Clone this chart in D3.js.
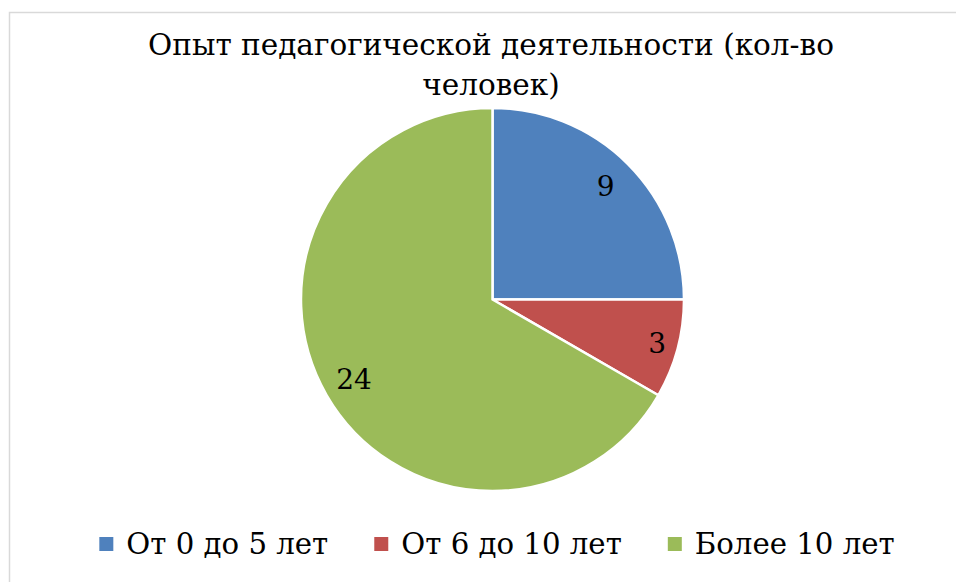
<!DOCTYPE html>
<html><head><meta charset="utf-8">
<script src="https://cdn.jsdelivr.net/npm/d3@7"></script>
<style>html,body{margin:0;padding:0;background:#fff;}svg{display:block;}
svg text{font-family:"DejaVu Serif",serif;}</style>
</head><body>
<svg id="chart" width="956" height="582"></svg>
<script>
const titleLines = ["Опыт педагогической деятельности (кол-во", "человек)"];
const categories = ["От 0 до 5 лет", "От 6 до 10 лет", "Более 10 лет"];
const values = [9, 3, 24];
const colors = ["#4F81BD", "#C0504D", "#9BBB59"];

const svg = d3.select("#chart");
const W = 956, H = 582;

svg.append("rect").attr("x", 9.5).attr("y", 12.5).attr("width", W + 20).attr("height", H + 20)
  .attr("fill", "#fff").attr("stroke", "#d9d9d9").attr("stroke-width", 1.5);

const title = svg.append("text").attr("font-size", 31).attr("fill", "#000")
  .attr("text-anchor", "middle");
title.selectAll("tspan").data(titleLines).join("tspan")
  .attr("x", 491).attr("y", (d, i) => 55 + i * 40).text(d => d);
// fit title width to reference line length (~686px)
const tw = title.select("tspan").node().getComputedTextLength();
title.attr("font-size", 31 * 686 / tw);

const cx = 492.5, cy = 299.5, r = 191.5;
const g = svg.append("g").attr("transform", `translate(${cx},${cy})`);
const pie = d3.pie().sort(null).value(d => d);
const arcs = pie(values);
const arc = d3.arc().innerRadius(0).outerRadius(r);
g.selectAll("path").data(arcs).join("path")
  .attr("d", arc).attr("fill", (d, i) => colors[i])
  .attr("stroke", "#fff").attr("stroke-width", 2.5).attr("stroke-linejoin", "round");

const total = d3.sum(values);
g.selectAll("text.lbl").data(arcs).join("text").attr("class", "lbl")
  .attr("font-size", 28).attr("fill", "#000")
  .attr("text-anchor", "middle").attr("dominant-baseline", "central")
  .attr("transform", d => {
    const lr = (d.value / total < 0.15) ? r * 0.89 : r * 0.835;
    const c = d3.arc().innerRadius(lr).outerRadius(lr).centroid(d);
    return `translate(${c[0]},${c[1]})`;
  })
  .text(d => d.value);

// legend
const lg = svg.append("g");
const items = lg.selectAll("g").data(categories).join("g");
items.append("rect").attr("width", 14).attr("height", 14).attr("y", -14)
  .attr("fill", (d, i) => colors[i]);
const lt = items.append("text").attr("x", 27).attr("y", 0).attr("font-size", 29)
  .attr("fill", "#000").attr("dy", "0.1em").text(d => d);
// fit first legend label to reference width (~202px)
const lw0 = lt.node().getComputedTextLength();
lt.attr("font-size", 29 * 202 / lw0);
const widths = [];
items.each(function() {
  const w = d3.select(this).select("text").node().getComputedTextLength();
  widths.push(27 + w);
});
const gap = 46;
const totalW = d3.sum(widths) + gap * (widths.length - 1);
let x0 = 497 - totalW / 2;
items.attr("transform", (d, i) => {
  const t = `translate(${x0},551)`;
  x0 += widths[i] + gap;
  return t;
});
</script>
</body></html>
